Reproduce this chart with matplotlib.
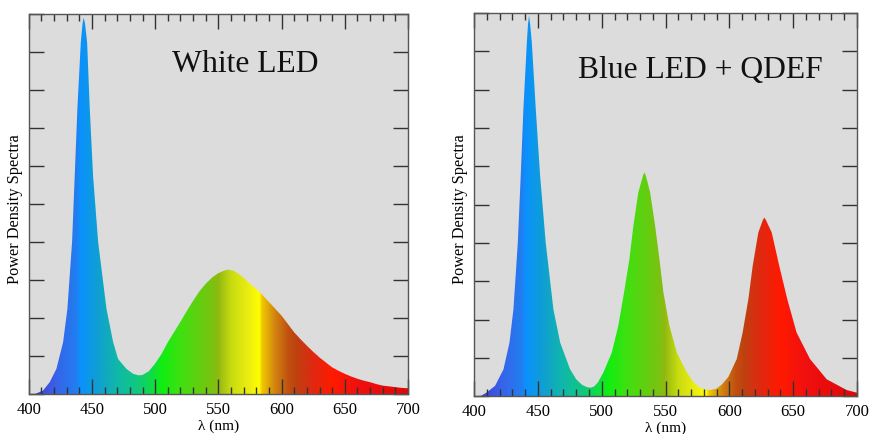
import numpy as np
import matplotlib
matplotlib.use("Agg")
import matplotlib.pyplot as plt
from matplotlib.colors import LinearSegmentedColormap
from matplotlib.ticker import MultipleLocator, NullFormatter

plt.rcParams['font.family'] = ['Liberation Serif', 'DejaVu Serif']

# spectra, normalised to the blue peak
white_wl = [400, 405, 411.3, 416.6, 421.9, 427.2, 430.6, 434.3, 436.4, 438.5, 441.2,
            442.6, 443.5, 444.5, 446.2, 448.3, 450.9, 454.9, 461.5, 466.8, 470.7,
            477.3, 482.6, 487, 490, 495, 500, 505, 510, 515, 520, 525, 530, 535, 540,
            545, 550, 555, 558, 562, 565, 570, 575, 580, 585, 590, 595, 600, 605, 610,
            615, 620, 625, 630, 635, 640, 645, 650, 655, 660, 665, 670, 675, 680, 685,
            690, 695, 700]
white_pds = [0.0, 0.0, 0.009, 0.031, 0.066, 0.136, 0.224, 0.40, 0.574, 0.75, 0.925,
             0.975, 0.99, 0.975, 0.925, 0.75, 0.574, 0.40, 0.224, 0.136, 0.092,
             0.066, 0.053, 0.049, 0.05, 0.06, 0.08, 0.105, 0.136, 0.163, 0.19, 0.218,
             0.245, 0.27, 0.29, 0.306, 0.318, 0.325, 0.327, 0.324, 0.318, 0.306, 0.29,
             0.276, 0.26, 0.242, 0.224, 0.206, 0.184, 0.162, 0.144, 0.127, 0.111,
             0.096, 0.083, 0.07, 0.061, 0.053, 0.046, 0.04, 0.035, 0.031, 0.026,
             0.022, 0.02, 0.018, 0.016, 0.015]

qdef_wl = [400, 405, 410, 416.4, 423, 427.7, 430.8, 434.2, 436.5, 438.6, 441.3, 442.2,
           443, 443.9, 445.2, 448.3, 451.7, 456.1, 462.1, 467.4, 475.2, 480, 484.4,
           488, 491, 494, 497, 501.3, 507.9, 513, 517.5, 521.7, 524.8, 528.7, 532.3,
           533.4, 534.6, 537.9, 541.8, 545.2, 548.3, 553, 558.8, 566.6, 572, 577,
           581, 585, 590.1, 594, 599.2, 605.8, 610.4, 614.9, 618.3, 622.7, 626.3,
           627.4, 628.6, 633.2, 639.1, 645.4, 652.7, 663.2, 676.3, 691.9, 700]
qdef_pds = [0.0, 0.0, 0.01, 0.027, 0.07, 0.14, 0.227, 0.40, 0.575, 0.749, 0.923,
            0.97, 0.993, 0.97, 0.923, 0.749, 0.575, 0.40, 0.227, 0.14, 0.07, 0.044,
            0.03, 0.024, 0.022, 0.025, 0.036, 0.062, 0.114, 0.184, 0.271, 0.358,
            0.445, 0.532, 0.575, 0.584, 0.575, 0.532, 0.445, 0.358, 0.271, 0.184,
            0.114, 0.062, 0.036, 0.022, 0.017, 0.016, 0.02, 0.03, 0.05, 0.097, 0.166,
            0.253, 0.340, 0.427, 0.46, 0.466, 0.46, 0.427, 0.340, 0.253, 0.166,
            0.097, 0.044, 0.016, 0.009]

# wavelength -> colour stops for the rainbow fill
stop_wl = [400, 405, 420, 438, 440, 455, 470, 485, 495, 505, 520, 540, 547, 549, 560,
           575, 582, 584, 595, 605, 612, 625, 640, 660, 700]
stop_col = ['#4040d0', '#4040d0', '#3a60e8', '#2080f0', '#0a90ff', '#10a0d0', '#10b8a8',
            '#10c880', '#10d850', '#10ee10', '#40e010', '#70c810', '#80c010', '#90b810',
            '#c8dc10', '#f0f010', '#ffff00', '#f0c800', '#d08010', '#c05010', '#c04010',
            '#e02810', '#ff1a00', '#f01010', '#e00808']

cmap = LinearSegmentedColormap.from_list(
    'spec', [((w - 400) / 300, c) for w, c in zip(stop_wl, stop_col)], N=1024)


def draw_panel(ax, wl, pds, title, tx, ty):
    ax.set_facecolor('#dcdcdc')
    poly = ax.fill_between(wl, 0, pds, color='none', lw=0)
    grad = np.linspace(0, 1, 1200).reshape(1, -1)
    im = ax.imshow(grad, cmap=cmap, extent=[400, 700, 0, 1], aspect='auto',
                   origin='lower', zorder=1)
    path = poly.get_paths()[0]
    im.set_clip_path(path, transform=ax.transData)
    ax.set_xlim(400, 700)
    ax.set_ylim(0, 1)
    ax.xaxis.set_major_locator(MultipleLocator(50))
    ax.xaxis.set_minor_locator(MultipleLocator(10))
    ax.yaxis.set_major_locator(MultipleLocator(0.1))
    ax.yaxis.set_major_formatter(NullFormatter())
    ax.tick_params(which='both', direction='in', top=True, right=True,
                   color='#333333', width=1.0, labelsize=12, pad=5)
    ax.tick_params(which='major', length=11)
    ax.tick_params(which='minor', length=5)
    for s in ax.spines.values():
        s.set_color('#555555')
        s.set_linewidth(1.0)
        s.set_zorder(5)
    ax.set_axisbelow(False)
    ax.set_ylabel('Power Density Spectra', fontsize=11.7)
    ax.yaxis.set_label_coords(-0.016, 0.49)
    ax.set_xlabel('λ (nm)', fontsize=11, labelpad=1)
    ax.text(tx, ty, title, transform=ax.transAxes, fontsize=22.8,
            ha='center', va='center', color='#111111')


fig = plt.figure(figsize=(8.7, 4.35), dpi=100)
ax1 = fig.add_axes([0.033, 0.092, 0.436, 0.874])
ax2 = fig.add_axes([0.545, 0.087, 0.440, 0.881])

draw_panel(ax1, white_wl, white_pds, 'White LED', 0.57, 0.868)
draw_panel(ax2, qdef_wl, qdef_pds, 'Blue LED + QDEF', 0.59, 0.853)

fig.savefig('out.png', dpi=100, facecolor='white')
